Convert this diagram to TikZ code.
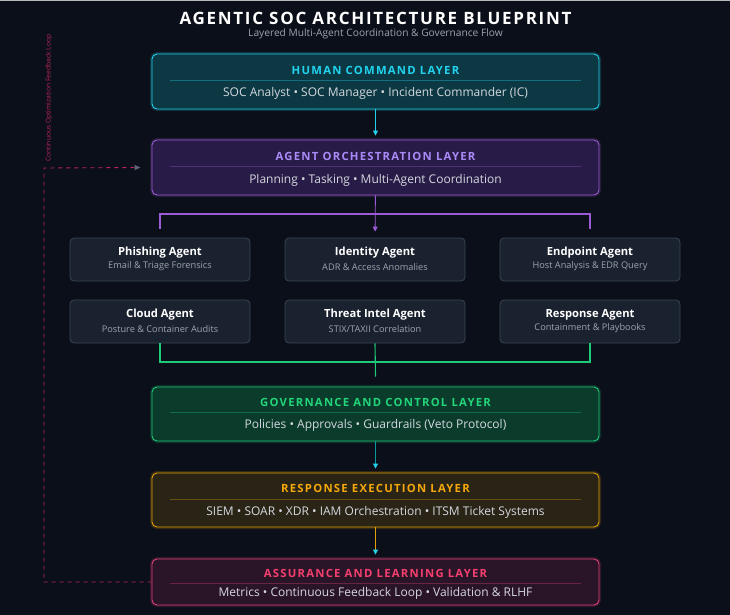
\documentclass[tikz,border=0pt]{standalone}
\usepackage{fontspec}
\setmainfont{Open Sans}
\newfontfamily\headfont[LetterSpace=10]{Open Sans}
\newfontfamily\capsfont[LetterSpace=11]{Open Sans}
\usetikzlibrary{arrows.meta}
\definecolor{bgnavy}{HTML}{0B0F19}
\definecolor{cyanline}{HTML}{22D3EE}
\definecolor{cyanfill}{HTML}{0C3843}
\definecolor{violetline}{HTML}{9B5BD4}
\definecolor{violettext}{HTML}{A98BF8}
\definecolor{violetfill}{HTML}{291B47}
\definecolor{greenline}{HTML}{1DCB78}
\definecolor{greentext}{HTML}{22D47A}
\definecolor{greenfill}{HTML}{0A3B2B}
\definecolor{amberline}{HTML}{E3A008}
\definecolor{ambertext}{HTML}{F5A80B}
\definecolor{amberfill}{HTML}{2A2417}
\definecolor{pinkline}{HTML}{DF4079}
\definecolor{pinktext}{HTML}{F43F6F}
\definecolor{pinkfill}{HTML}{2A1427}
\definecolor{agentfill}{HTML}{1B222F}
\definecolor{agentline}{HTML}{3A4453}
\definecolor{bodytext}{HTML}{D4D8DE}
\definecolor{subtext}{HTML}{9AA3AF}
\definecolor{loopline}{HTML}{B8265A}
\definecolor{tipgray}{HTML}{5B6478}
\tikzset{layer/.style={draw=#1line, fill=#1fill, rounded corners=5, line width=0.9, minimum width=447, minimum height=55, preaction={draw=#1line, line width=4, draw opacity=0.18}}}
\tikzset{layertitle/.style={text=#1, font=\capsfont\bfseries\fontsize{11.3}{13}\selectfont, inner sep=0}}
\tikzset{layerbody/.style={text=bodytext, font=\fontsize{12}{14}\selectfont, inner sep=0}}
\tikzset{sepline/.style={draw=#1, draw opacity=0.35, line width=0.7}}
\tikzset{agent/.style={draw=agentline, fill=agentfill, rounded corners=4, line width=0.8, minimum width=180, minimum height=43}}
\tikzset{agenttitle/.style={text=white, font=\bfseries\fontsize{11.2}{13}\selectfont, inner sep=0}}
\tikzset{agentsub/.style={text=subtext, font=\fontsize{9.2}{11}\selectfont, inner sep=0}}
\tikzset{flow/.style={draw=#1, line width=0.9, -{Triangle[width=5,length=5,color=cyanline,fill=cyanline]}, shorten >=4}}
\tikzset{link/.style={draw=#1, line width=1.1}}
\tikzset{feedback/.style={draw=loopline, dashed, dash pattern=on 4 off 4, line width=0.9, -{Triangle[width=5,length=6,color=tipgray,fill=tipgray]}}}

\begin{document}
\begin{tikzpicture}[x=1pt, y=-1pt]
  \fill[bgnavy] (0,0) rectangle (730,615);
  \useasboundingbox (0,0) rectangle (730,615);
  \fill[gray!55] (0,0) rectangle (730,1.5);

  % title
  \node[text=white, font=\headfont\bfseries\fontsize{17}{19}\selectfont, inner sep=0] (title) at (375.5,18) {AGENTIC SOC ARCHITECTURE BLUEPRINT};
  \node[text=subtext, font=\fontsize{10.2}{12}\selectfont, inner sep=0] (subtitle) at (375.5,34) {Layered Multi-Agent Coordination \& Governance Flow};

  % layers
  \node[layer=cyan] (human) at (375.5,81.5) {};
  \node[layertitle=cyanline] (human-title) at ([yshift=-17]human.north) {HUMAN COMMAND LAYER};
  \draw[sepline=cyanline] ([xshift=18,yshift=-27]human.north west) -- ([xshift=-18,yshift=-27]human.north east);
  \node[layerbody] (human-body) at ([yshift=-40]human.north) {SOC Analyst • SOC Manager • Incident Commander (IC)};

  \node[layer=violet] (orch) at (375.5,167.5) {};
  \node[layertitle=violettext] (orch-title) at ([yshift=-17]orch.north) {AGENT ORCHESTRATION LAYER};
  \draw[sepline=violetline] ([xshift=18,yshift=-27]orch.north west) -- ([xshift=-18,yshift=-27]orch.north east);
  \node[layerbody] (orch-body) at ([yshift=-41]orch.north) {Planning • Tasking • Multi-Agent Coordination};

  \node[layer=green, minimum height=54] (gov) at (375.5,414) {};
  \node[layertitle=greentext] (gov-title) at ([yshift=-16]gov.north) {GOVERNANCE AND CONTROL LAYER};
  \draw[sepline=greenline] ([xshift=18,yshift=-26]gov.north west) -- ([xshift=-18,yshift=-26]gov.north east);
  \node[layerbody] (gov-body) at ([yshift=-39]gov.north) {Policies • Approvals • Guardrails (Veto Protocol)};

  \node[layer=amber, minimum height=54] (resp) at (375.5,500) {};
  \node[layertitle=ambertext] (resp-title) at ([yshift=-16]resp.north) {RESPONSE EXECUTION LAYER};
  \draw[sepline=amberline] ([xshift=18,yshift=-27]resp.north west) -- ([xshift=-18,yshift=-27]resp.north east);
  \node[layerbody] (resp-body) at ([yshift=-40]resp.north) {SIEM • SOAR • XDR • IAM Orchestration • ITSM Ticket Systems};

  \node[layer=pink, minimum height=46] (assur) at (375.5,582) {};
  \node[layertitle=pinktext] (assur-title) at ([yshift=-15]assur.north) {ASSURANCE AND LEARNING LAYER};
  \draw[sepline=pinkline] ([xshift=18,yshift=-25]assur.north west) -- ([xshift=-18,yshift=-25]assur.north east);
  \node[layerbody] (assur-body) at ([yshift=-35]assur.north) {Metrics • Continuous Feedback Loop • Validation \& RLHF};

  % agents
  \node[agent] (phish) at (160,259.5) {};
  \node[agenttitle] (phish-title) at ([yshift=-15]phish.north) {Phishing Agent};
  \node[agentsub] (phish-sub) at ([yshift=-29]phish.north) {Email \& Triage Forensics};
  \node[agent] (identity) at (375,259.5) {};
  \node[agenttitle] (identity-title) at ([yshift=-15]identity.north) {Identity Agent};
  \node[agentsub] (identity-sub) at ([yshift=-29]identity.north) {ADR \& Access Anomalies};
  \node[agent] (endpoint) at (590,259.5) {};
  \node[agenttitle] (endpoint-title) at ([yshift=-15]endpoint.north) {Endpoint Agent};
  \node[agentsub] (endpoint-sub) at ([yshift=-29]endpoint.north) {Host Analysis \& EDR Query};
  \node[agent] (cloud) at (160,321.5) {};
  \node[agenttitle] (cloud-title) at ([yshift=-15]cloud.north) {Cloud Agent};
  \node[agentsub] (cloud-sub) at ([yshift=-29]cloud.north) {Posture \& Container Audits};
  \node[agent] (intel) at (375,321.5) {};
  \node[agenttitle] (intel-title) at ([yshift=-15]intel.north) {Threat Intel Agent};
  \node[agentsub] (intel-sub) at ([yshift=-29]intel.north) {STIX/TAXII Correlation};
  \node[agent] (response) at (590,321.5) {};
  \node[agenttitle] (response-title) at ([yshift=-15]response.north) {Response Agent};
  \node[agentsub] (response-sub) at ([yshift=-29]response.north) {Containment \& Playbooks};

  % connectors
  \coordinate (fanout) at (375,214);
  \coordinate (fanin) at (375,362);
  \draw[flow=cyanline] (human) -- (orch);
  \draw[link=violetline] ([yshift=9]phish.north) |- (fanout) -| ([yshift=9]endpoint.north);
  \draw[flow=violetline, shorten >=6, -{Triangle[width=5,length=5]}] (orch) -- (identity);
  \draw[link=greenline] (cloud.south) |- (fanin) -| (response.south);
  \draw[link=greenline] (intel.south) -- ([yshift=10]gov.north);
  \draw[flow=teal!70!cyanline] (gov) -- (resp);
  \draw[flow=amberline] (resp) -- (assur);

  % feedback loop
  \coordinate (loopleft) at (44,168);
  \draw[feedback] (assur.west) -| (loopleft) -- ([xshift=-11]orch.west);
  \node[text=loopline, font=\fontsize{6.7}{8}\selectfont, inner sep=0, rotate=90] (looptext) at (49,98) {Continuous Optimization Feedback Loop};
\end{tikzpicture}
\end{document}
